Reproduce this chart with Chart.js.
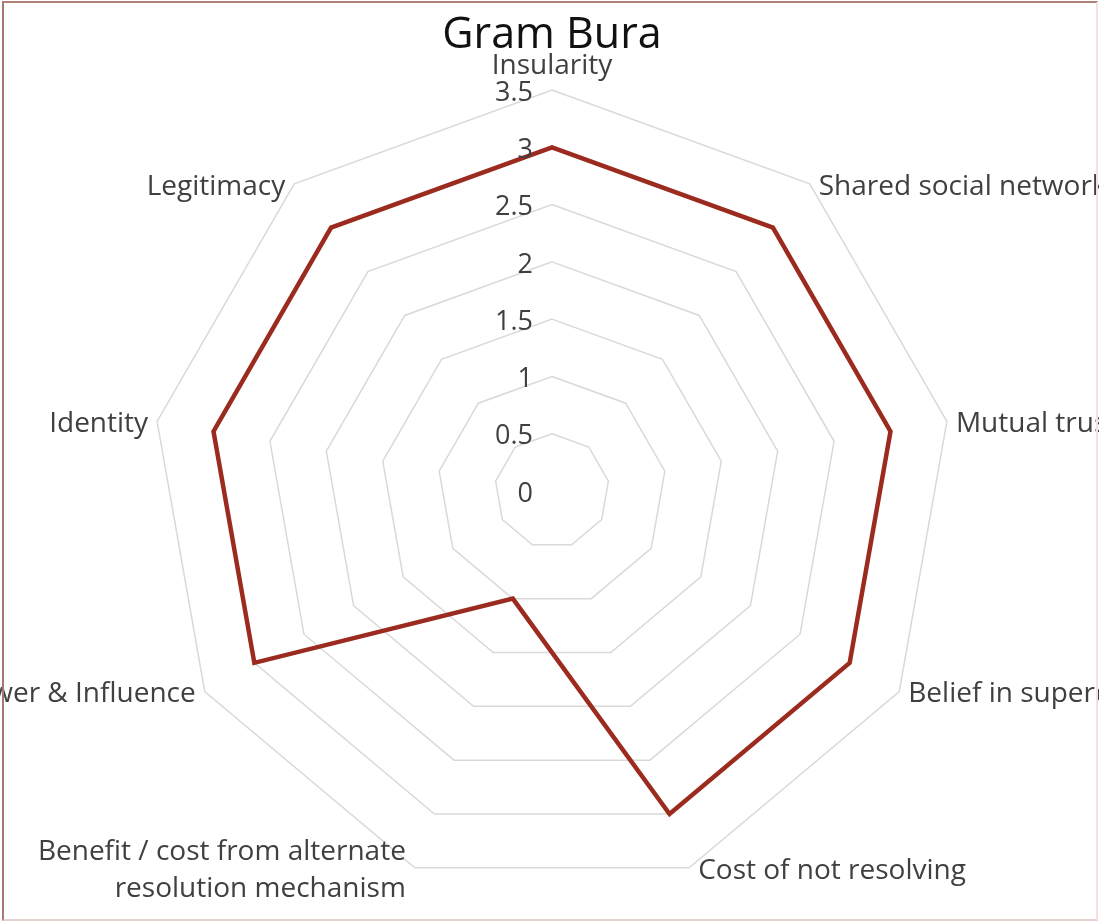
<!DOCTYPE html>
<html>
<head>
<meta charset="utf-8">
<script src="https://cdn.jsdelivr.net/npm/chart.js@4/dist/chart.umd.min.js"></script>
<style>
  html, body { margin: 0; padding: 0; background: #ffffff; }
  #frame {
    position: relative;
    width: 1099px; height: 922px; overflow: hidden;
    background: #ffffff;
  }
  #frame::after {
    content: ""; position: absolute; left: 2px; top: 1px; right: 1px; bottom: 1px;
    border-left: 2px solid #a87870; border-top: 2px solid #b08078;
    border-bottom: 2px solid #e8d0cc; border-right: 2px solid #f6e0e0;
    pointer-events: none;
  }
  canvas { display: block; }
</style>
</head>
<body>
<div id="frame"><canvas id="chart" width="1099" height="922"></canvas></div>
<script>
// Axes of the Gram Bura profile, clockwise from the top
const categories = [
  'Insularity',
  'Shared social networks',
  'Mutual trust',
  'Belief in superordinate goals',
  'Cost of not resolving',
  ['Benefit / cost from alternate', 'resolution mechanism'],
  'Power & Influence',
  'Identity',
  'Legitimacy'
];
const scores = [3, 3, 3, 3, 3, 1, 3, 3, 3];
const tickLabels = ['0', '0.5', '1', '1.5', '2', '2.5', '3', '3.5'];

const TEXT_FONT = '"Open Sans", "DejaVu Sans", sans-serif';

// Tick values and axis names drawn beside the radial scale
const axisText = {
  id: 'axisText',
  afterDraw(chart) {
    const scale = chart.scales.r;
    const ctx = chart.ctx;
    ctx.save();
    ctx.fillStyle = '#404040';

    // value labels, right-aligned to the left of the vertical axis
    ctx.font = '27px ' + TEXT_FONT;
    ctx.textAlign = 'right';
    ctx.textBaseline = 'middle';
    tickLabels.forEach(t => {
      const v = parseFloat(t);
      const y = scale.yCenter - scale.getDistanceFromCenterForValue(v);
      ctx.fillText(t, scale.xCenter - 19, y + 3);
    });

    // category labels outside the outer ring
    ctx.font = '28px ' + TEXT_FONT;
    const n = categories.length;
    categories.forEach((label, i) => {
      const p = scale.getPointPosition(i, scale.drawingArea);
      const angle = (360 / n) * i;
      const lines = Array.isArray(label) ? label : [label];
      let x = p.x, y = p.y + 3;
      if (i === 0) {
        ctx.textAlign = 'center';
        y = p.y - 24;
      } else if (angle < 180) {
        ctx.textAlign = 'left';
        x = p.x + 9;
      } else {
        ctx.textAlign = 'right';
        x = p.x - 9;
      }
      const lh = 37;
      const top = y - (lines.length - 1) * lh / 2;
      lines.forEach((ln, k) => ctx.fillText(ln, x, top + k * lh));
    });
    ctx.restore();
  }
};

new Chart(document.getElementById('chart'), {
  type: 'radar',
  data: {
    labels: categories,
    datasets: [{
      label: 'Gram Bura',
      data: scores,
      borderColor: '#9c2b1f',
      backgroundColor: 'rgba(0,0,0,0)',
      borderWidth: 4.5,
      borderJoinStyle: 'miter',
      pointRadius: 0,
      pointHoverRadius: 0,
      fill: false,
      tension: 0
    }]
  },
  options: {
    responsive: false,
    animation: false,
    events: [],
    layout: { padding: { top: 0, bottom: 30, left: 5, right: 0 } },
    plugins: {
      legend: { display: false },
      tooltip: { enabled: false },
      title: {
        display: true,
        text: 'Gram Bura',
        color: '#111111',
        font: { family: TEXT_FONT, size: 43, weight: 'normal', lineHeight: '50px' },
        padding: { top: 11, bottom: 29 }
      }
    },
    scales: {
      r: {
        min: 0,
        max: 3.5,
        ticks: { stepSize: 0.5, display: false },
        grid: { color: '#d9d9d9', lineWidth: 1.5, circular: false },
        angleLines: { display: false },
        pointLabels: { display: false }
      }
    }
  },
  plugins: [axisText]
});
</script>
</body>
</html>
